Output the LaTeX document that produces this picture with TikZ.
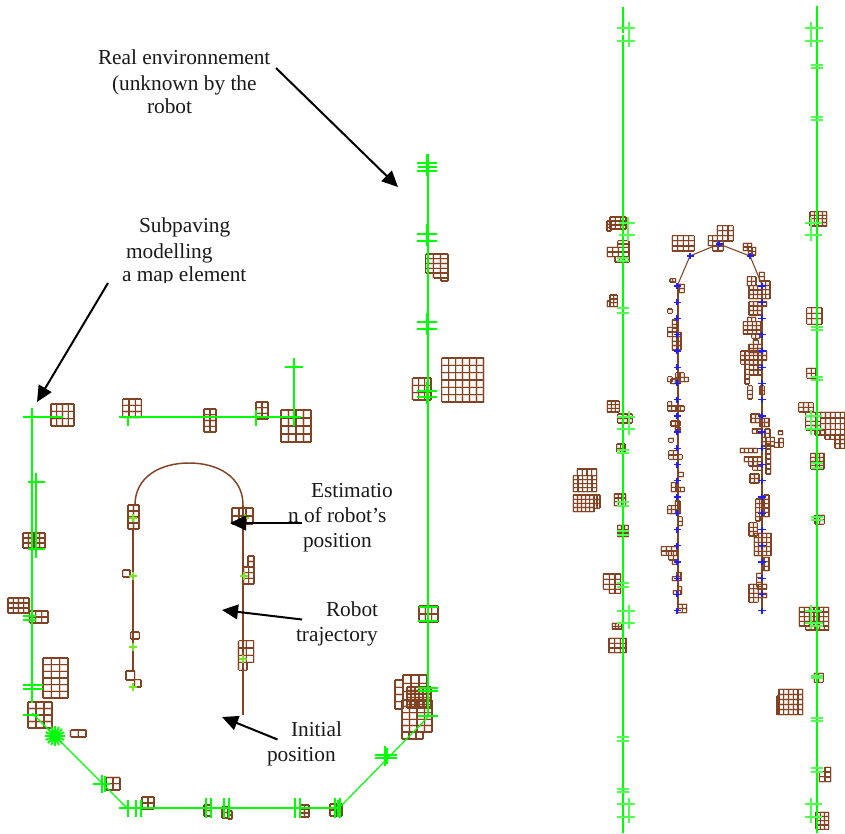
\documentclass[tikz,border=0pt]{standalone}
\usepackage{fontspec}
\setmainfont{Liberation Serif}
\usetikzlibrary{arrows.meta}
\newcommand{\pavlist}{
  51/404/74/426/4/3, 122.7/399/141.3/417.7/3/3, 204/409/216/432/2/4, 256/402/268/419/2/3,
  281/410/311/442/4/4, 23/533/45/548/4/3, 128/505/139/529/2/4, 232/508/253/524/3/2,
  122.7/570/130/577/1/1, 248/556/254/567/1/2, 243.7/567/254/584/2/3,
  8/598/29/613/4/3, 29.5/611/48/623/3/2, 43/658/68/698/3/6, 28/702/52/728/3/4,
  70.5/730/86/737/2/1, 106/777.5/120/790/2/2, 142/797/154/809/2/2, 204/805/211/816/1/2,
  222/807/228/818/1/2, 228/811/232/819/1/2, 300/805/309/817/2/3, 330/804/342/816/2/2,
  419/606/438/622/3/2, 130.7/632/139.3/639/1/1, 126/671/134.7/680/1/1, 134.7/679.7/141/687/1/1,
  238.5/640.7/253.7/662.3/2/3, 238.5/662.3/247/670.3/1/1,
  425.7/254/448/273/3/4, 433.5/273/448/278/2/1, 441/278/448/281/1/1,
  441.7/358/483.5/402/6/6, 412.5/378/431/400/3/3,
  610/217/626/229/3/3, 607/221/611/231/1/3, 607.3/247.3/629/256.7/4/2, 617.7/240.7/629/247.3/2/2,
  615/256.7/629/262/3/1, 610/295/617.3/306.7/2/3, 607.3/301/610/306.7/1/1, 607.3/401/619.3/412/3/3,
  617.7/414/632.3/423/3/2, 616.7/444/625/452.3/2/2, 614.3/494/625.7/505.7/3/3,
  617.7/525.3/628.3/536.7/3/3, 603.3/574/620.7/589.3/3/3, 609.3/589.3/620.7/593.3/2/1,
  612.3/623.3/621.7/629/3/2, 609/638.3/626/652.7/3/3,
  577.3/469/596.7/475.7/4/1, 573.3/475.7/596.7/491.7/5/4, 573.3/495/594/511.7/5/4, 594/495/600/508.3/2/3,
  672.3/235.7/694.3/251/4/3, 717.3/225.7/733.3/241/3/3, 708.3/235.7/717.3/245.7/2/2, 712.7/241/723.3/251/2/2,
  743.3/243.3/751.7/250.7/2/2, 748.3/247.3/755.7/255/2/2, 670/278.7/675.7/282/2/1, 679.3/284.3/684.3/292.7/1/2,
  667.7/309/672.3/313.3/1/1, 672.3/320/677/328.3/1/2, 667.7/327.3/677/336.7/2/2, 672.3/332.3/681/350/2/4,
  675.7/372.7/684.3/381.7/2/2, 684.3/377.3/688.3/381.7/1/1, 667.7/376.7/672.3/381.7/1/1, 671/379/680/383.7/2/1,
  667.7/401.7/671.7/411/1/2, 667.7/406/684.3/411/4/1, 671/421/680/426/2/1, 675.3/427.3/680/432.3/1/1,
  668.7/438.3/673.3/442.3/1/1, 668.7/450.7/677.7/459.3/2/2, 677.7/454.7/682.3/459.3/1/1, 678.3/472.3/683.3/476.7/1/1,
  671.3/482.7/676/491.7/1/2, 676/487.3/684.3/491.7/2/1, 675.3/501/680/513.7/1/3, 667.7/505.7/675.3/513.7/2/2,
  677.7/516.7/682.3/525.7/1/2, 661.3/546.7/676.7/555.3/3/2, 668.7/551/677.7/560/2/2, 672.3/560/677/564.3/1/1,
  676.7/572.3/681/580.7/1/2, 672.3/576.7/681/580.7/2/1, 677.7/586.7/681.7/594.3/1/2, 673.3/590.7/680.7/594.3/2/1,
  677.7/604.3/686.7/612.7/2/2,
  747.3/276.7/756/285.7/2/2, 759.3/272.3/764.3/281/1/2, 749/285.7/762/298.7/3/3, 761.7/281/770/298.7/2/4,
  749/301.7/766.7/306/4/1, 749/306/761.7/315/3/2, 747.7/317.3/755.7/321.7/2/1, 743.3/321.7/761/334/4/3,
  751.7/334/760/338.3/2/1, 753.3/340/758.3/344.3/1/1, 749/344.3/762.3/352.7/3/2, 740.7/351/766.7/360/6/2,
  740.7/360/753.3/364.3/3/1, 745/364.3/749.3/384/1/4, 749.3/360/762.3/375/3/3, 747.7/385.7/752.3/399/1/3,
  760/385.7/764.3/394.7/1/2, 751/414/760/422.7/2/2, 760/418.3/769/426.7/2/2, 778.3/431/782.7/434.7/1/1,
  752.3/429/761.7/433.3/2/1, 765/429/770/437.3/1/2, 761.7/437.3/774.3/446/3/2, 779/438.3/783.3/447.3/1/2,
  774.3/442.7/783.3/447.3/2/1, 740.3/448.3/757.3/452.7/4/1, 752.7/448.3/757.3/452.7/1/1, 766/444/770.7/474/1/6,
  744.3/457/761.7/461.7/4/1, 748.7/461.7/761.7/466/3/1, 752.7/466/761.7/470.3/2/1, 750/474/759/483/2/2,
  764/495/769/516.7/1/5, 755.7/499/764/516.7/2/4, 755.7/516.7/760/521/1/1, 749/522.7/757.3/536/2/3,
  754.3/533.3/771/555.7/4/5, 764/557.3/769/570.7/1/3, 756.7/573.3/761.7/586.7/1/3, 749/584.3/758.3/602.3/2/4,
  757.3/584.3/766.7/589/2/1, 758.3/593.3/766.7/597.7/2/1,
  810/211.7/826.7/226/4/4, 806.7/307.7/822/324.3/3/3, 806.7/368.3/815.7/378.3/2/2, 798.7/402.7/813.3/412/3/2,
  805.7/412.3/820.7/430/3/4, 820.7/412.3/845/435/5/4, 835/435/845/448.3/2/3, 825/435/835/439.3/2/1, 815/430/825/435/2/1,
  810.7/453.3/824/469.3/3/4, 815/515.3/824.3/524.3/2/2, 799.3/607.3/828.7/626/6/4, 805.7/626/828.7/630/5/1,
  814.3/673.3/823.3/682.3/2/2, 779/689.3/802.7/714.7/5/5, 777/695.7/779/714.7/1/4, 825/767.3/830.7/781.7/1/3,
  819.3/771.7/830.7/781.7/2/2, 816/812.3/828.7/829.3/3/4,
  403/675/427/700/3/3, 395/680/403/709/1/4, 407/687/431/708/6/6, 402/700/432/732/4/5, 402/732/423/739/3/1}

\begin{document}
\begin{tikzpicture}[x=0.75pt,y=-0.75pt,
  wall/.style={draw=cwall,line width=1.4pt},
  rightwall/.style={draw=cwall,line width=1.2pt},
  thinwall/.style={draw=cwall,line width=0.9pt},
  tick/.style={draw=cwall,line width=1pt},
  softtick/.style={draw=csoft,line width=1.2pt},
  softbar/.style={draw=csoft,line width=1.8pt},
  hardbar/.style={draw=cwall,line width=2pt},
  starray/.style={draw=cwall,line width=1.4pt},
  pavhalo/.style={draw=chalo,line width=1.7pt},
  pavline/.style={draw=cpav,line width=0.9pt},
  track/.style={draw=cpav,line width=1.1pt},
  thintrack/.style={draw=cpav,line width=0.8pt},
  esttick/.style={draw=cest,line width=1pt},
  bluetick/.style={draw=cblue,line width=1pt},
  pointer/.style={draw=black,line width=1.5pt,-{Triangle[length=12pt,width=11pt]}},
  lbl/.style={anchor=base west,inner sep=0pt,outer sep=0pt,font=\fontsize{16}{19}\selectfont,text=black!90}]
\definecolor{cwall}{RGB}{0,255,0}
\definecolor{csoft}{RGB}{80,255,80}
\definecolor{cest}{RGB}{120,230,30}
\definecolor{cpav}{RGB}{130,66,36}
\definecolor{chalo}{RGB}{232,208,196}
\definecolor{cblue}{RGB}{30,30,255}
\useasboundingbox (0,0) rectangle (845,834);
\foreach \st in {pavhalo,pavline}{
  \foreach \xa/\ya/\xb/\yb/\nx/\ny in \pavlist{
    \foreach \i in {0,...,\nx}{\draw[\st] (\xa+\i*\xb/\nx-\i*\xa/\nx,\ya) -- (\xa+\i*\xb/\nx-\i*\xa/\nx,\yb);}
    \foreach \j in {0,...,\ny}{\draw[\st] (\xa,\ya+\j*\yb/\ny-\j*\ya/\ny) -- (\xb,\ya+\j*\yb/\ny-\j*\ya/\ny);}
  }
}
\draw[wall] (32,408) -- (32,703);
\draw[wall] (23,417) -- (63,417);
\draw[wall] (119,417) -- (301,417);
\draw[wall] (428,154) -- (428,716);
\draw[tick] (128,417) -- (128,426);
\draw[tick] (256,410) -- (256,426);
\draw[tick] (294,358) -- (294,426);
\draw[tick] (285,367) -- (303,367);
\draw[tick] (36,473) -- (36,558);
\draw[tick] (28,482) -- (45,482);
\draw[tick] (28,549) -- (45,549);
\draw[thinwall] (32,713) -- (127,808);
\draw[wall] (119,808) -- (340,808);
\draw[thinwall] (341,806) -- (428,717);
\draw[wall] (197,807.5) -- (238,807.5);
\foreach \vy/\ya/\yb in {154/163/171,224/234/241,313/322/329,382/391/397}{
  \draw[hardbar] (427,\vy) -- (427,\vy+22);
  \draw[tick] (417,\ya) -- (437,\ya);
  \draw[tick] (417,\yb) -- (437,\yb);
}
\draw[tick] (418,167) -- (437,167);
\foreach \vx/\ya/\yb in {128/800/817,136/800/817,141/800/817,206/798/818,211/798/818,224/798/818,229/798/818,295/798/818,300/798/818,335/798/818,338/800/817,340/798/818,102/775/793,105/776/792}{
  \draw[tick] (\vx,\ya) -- (\vx,\yb);
}
\foreach \hy/\xa/\xb in {784/93/110,685/23/43,689/23/43,715/23/39,616/23/36,620/23/36,621/418/438,607/419/438}{
  \draw[tick] (\xa,\hy) -- (\xb,\hy);
}
\draw[hardbar] (32,676) -- (32,700);
\draw[tick] (428,600) -- (428,630);
\foreach \a in {0,22.5,...,337.5}{\draw[starray] (55,736) -- ++(\a:10);}
\draw[hardbar] (385,746) -- (385,766);
\draw[hardbar] (387,748) -- (387,764);
\draw[tick] (375,755) -- (397,755);
\draw[tick] (375,758) -- (397,758);
\foreach \hy in {688,691,716}{\draw[tick] (418,\hy) -- (438,\hy);}
\draw[track] (133,529) -- (133,671);
\draw[track] (243,505) -- (243,715);
\draw[track] (135,505) .. controls (135,477) and (160,463) .. (189,463) .. controls (218,463) and (243,477) .. (243,505);
\foreach \cx/\cy in {133/518,133/576,244/576,245/518,133/647,133/687,243/659}{
  \draw[esttick] (\cx-4,\cy) -- (\cx+4,\cy);
  \draw[esttick] (\cx,\cy-4) -- (\cx,\cy+4);
}
\draw[rightwall] (623,7) -- (623,33.5);
\draw[rightwall] (623,35) -- (623,833);
\draw[rightwall] (817,6) -- (817,833);
\foreach \vx/\xa/\xb/\ya/\yb in {629/617/635/28/41, 811/805/823/28/41, 628/619/635/223/235, 811/805/822/223/235,
  629/617/635/417/429, 811/805/822/416/429, 629/617/635/611/623, 811/805/822/611/623,
  629/617/635/804/817, 811/805/822/804/817}{
  \draw[softbar] (\vx,\ya-6) -- (\vx,\yb+6);
  \draw[softtick] (\xa,\ya) -- (\xb,\ya);
  \draw[softtick] (\xa,\yb) -- (\xb,\yb);
}
\foreach \vx/\ya/\yb in {817/65/68, 817/117/120, 623/258/261, 623/308/313, 623/450/453, 623/502/506,
  623/531/535, 623/583/587, 623/737/741, 623/789/792, 817/327/330, 817/377/380,
  817/463/468, 817/517/520, 817/623/626, 817/676/678, 817/718/721, 817/768/772}{
  \draw[hardbar] (\vx,\ya-6) -- (\vx,\yb+6);
  \draw[softtick] (\vx-6,\ya) -- (\vx+6,\ya);
  \draw[softtick] (\vx-6,\yb) -- (\vx+6,\yb);
}
\draw[thintrack] (678,284) -- (690,256) -- (719,244) -- (750,256) -- (762,285);
\draw[track] (678,284) -- (678,610);
\draw[track] (762,285) -- (762,610);
\foreach \cx/\cy in {690/256,719/244,750/256}{
  \draw[bluetick] (\cx-3.5,\cy) -- (\cx+3.5,\cy);
  \draw[bluetick] (\cx,\cy-3) -- (\cx,\cy+3);
}
\foreach \i in {0,...,20}{
  \draw[bluetick] (673.5,286+\i*16.235) -- (680.5,286+\i*16.235);
  \draw[bluetick] (677,283+\i*16.235) -- (677,289+\i*16.235);
  \draw[bluetick] (758,286+\i*16.235) -- (765.5,286+\i*16.235);
  \draw[bluetick] (762,283+\i*16.235) -- (762,289+\i*16.235);
}
\node[lbl] (lblreala) at (98,65) {Real environnement};
\node[lbl] (lblrealb) at (112,91) {(unknown by the};
\node[lbl] (lblrealc) at (147,114) {robot};
\node[lbl] (lblsuba) at (139,233) {Subpaving};
\node[lbl] (lblsubb) at (126,258) {modelling};
\begin{scope}
\clip (100,262) rectangle (300,282);
\node[lbl] (lblsubc) at (122,281.6) {a map element};
\end{scope}
\node[lbl] (lblesta) at (311,497) {Estimatio};
\node[lbl] (lblestb) at (288,522) {n of robot's};
\node[lbl] (lblestc) at (303,547) {position};
\node[lbl] (lblroba) at (326,616) {Robot};
\node[lbl] (lblrobb) at (296,641) {trajectory};
\node[lbl] (lblinia) at (291,736) {Initial};
\node[lbl] (lblinib) at (267,761) {position};
\coordinate (realtail) at (276,68);
\coordinate (realtip) at (398,187);
\coordinate (subtail) at (108,283);
\coordinate (subtip) at (37,402);
\coordinate (esttail) at (302,523);
\coordinate (esttip) at (230,523);
\coordinate (robtail) at (302,619.5);
\coordinate (robtip) at (222,610);
\coordinate (initail) at (277.5,739.5);
\coordinate (initip) at (222,717);
\draw[pointer] (realtail) -- (realtip);
\draw[pointer] (subtail) -- (subtip);
\draw[pointer] (esttail) -- (esttip);
\draw[pointer] (robtail) -- (robtip);
\draw[pointer] (initail) -- (initip);
\end{tikzpicture}
\end{document}
